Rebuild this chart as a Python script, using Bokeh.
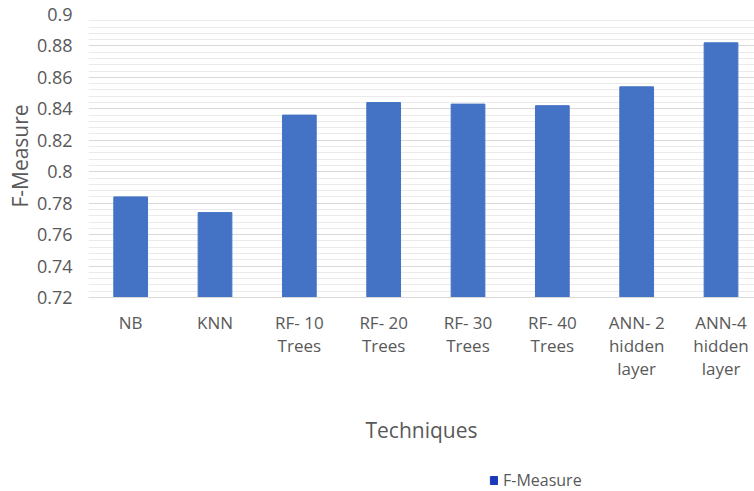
from bokeh.plotting import figure
from bokeh.layouts import column
from bokeh.models import (Range1d, FixedTicker, Legend, LegendItem, ColumnDataSource)
from bokeh.embed import file_html
from bokeh.resources import INLINE

# ---- data ----
techniques = ["NB", "KNN", "RF- 10\nTrees", "RF- 20\nTrees", "RF- 30\nTrees",
              "RF- 40\nTrees", "ANN- 2\nhidden\nlayer", "ANN-4\nhidden\nlayer"]
f_measure = [0.784, 0.774, 0.836, 0.844, 0.843, 0.842, 0.854, 0.882]
y_ticks = [0.72, 0.74, 0.76, 0.78, 0.80, 0.82, 0.84, 0.86, 0.88, 0.90]
y_tick_labels = ["0.72", "0.74", "0.76", "0.78", "0.8", "0.82", "0.84", "0.86", "0.88", "0.9"]
series_name = "F-Measure"

FONT = "Open Sans"
TXT = "#595959"
BAR = "#4472C4"

positions = list(range(len(techniques)))
src = ColumnDataSource(dict(x=positions, top=f_measure))

p = figure(width=754, height=467, output_backend="svg", toolbar_location=None,
           x_range=Range1d(-0.5, 7.397), y_range=Range1d(0.72, 0.90),
           min_border_left=88, min_border_right=0, min_border_top=14,
           min_border_bottom=170)
p.outline_line_color = None
p.background_fill_color = "white"
p.border_fill_color = "white"

bars = p.vbar(x="x", top="top", bottom=0.72, width=0.40, source=src,
              fill_color=BAR, line_color=BAR)

# x axis
p.xaxis.ticker = FixedTicker(ticks=positions)
p.xaxis.major_label_overrides = {i: t for i, t in zip(positions, techniques)}
p.xaxis.major_tick_line_color = None
p.xaxis.minor_tick_line_color = None
p.xaxis.major_tick_out = 0
p.xaxis.minor_tick_out = 0
p.xaxis.axis_line_color = "#d9d9d9"
p.xaxis.major_label_text_font = FONT
p.xaxis.major_label_text_font_size = "17px"
p.xaxis.major_label_text_color = TXT
p.xaxis.major_label_text_line_height = 1.0
p.xaxis.major_label_standoff = 13
p.xaxis.axis_label = "Techniques"
p.xaxis.axis_label_text_font = FONT
p.xaxis.axis_label_text_font_size = "21px"
p.xaxis.axis_label_text_font_style = "normal"
p.xaxis.axis_label_text_color = TXT
p.xaxis.axis_label_standoff = 33

# y axis
minor = []
for a in y_ticks[:-1]:
    for k in range(1, 5):
        minor.append(round(a + k * 0.004, 4))
p.yaxis.ticker = FixedTicker(ticks=y_ticks, minor_ticks=minor)
p.yaxis.major_label_overrides = {t: l for t, l in zip(y_ticks, y_tick_labels)}
p.yaxis.axis_line_color = None
p.yaxis.major_tick_line_color = None
p.yaxis.minor_tick_line_color = None
p.yaxis.major_tick_out = 0
p.yaxis.minor_tick_out = 0
p.yaxis.major_label_text_font = FONT
p.yaxis.major_label_text_font_size = "18px"
p.yaxis.major_label_text_color = TXT
p.yaxis.major_label_standoff = 16
p.yaxis.axis_label = "F-Measure"
p.yaxis.axis_label_text_font = FONT
p.yaxis.axis_label_text_font_size = "21px"
p.yaxis.axis_label_text_font_style = "normal"
p.yaxis.axis_label_text_color = TXT
p.yaxis.axis_label_standoff = 0

p.xgrid.grid_line_color = None
p.ygrid.grid_line_color = "#d9d9d9"
p.ygrid.grid_line_width = 1
p.ygrid.minor_grid_line_color = "#ebebeb"
p.ygrid.minor_grid_line_width = 1

# ---- legend strip ----
lg = figure(width=754, height=24, output_backend="svg", toolbar_location=None,
            title=None,
            x_range=Range1d(-100, -99), y_range=Range1d(0, 1),
            x_axis_location=None, y_axis_location=None,
            min_border_left=0, min_border_right=0, min_border_top=0,
            min_border_bottom=0)
lg.grid.visible = False
lg.outline_line_color = None
lg.background_fill_color = "white"
lg.border_fill_color = "white"
swatch = lg.vbar(x="x", top="top", bottom=0.72, width=0.4, source=src,
                 fill_color="#1a3ab8", line_color="#1a3ab8")
legend = Legend(items=[LegendItem(label=series_name, renderers=[swatch])],
                location=(401, 0), orientation="horizontal",
                glyph_width=9, glyph_height=10, label_height=17,
                label_standoff=5, padding=0, margin=0, spacing=0,
                border_line_color=None, background_fill_alpha=0,
                label_text_font=FONT, label_text_font_size="16px",
                label_text_color=TXT)
lg.add_layout(legend, "center")

layout = column(p, lg, spacing=0)
open("out.html", "w").write(file_html(layout, INLINE))
